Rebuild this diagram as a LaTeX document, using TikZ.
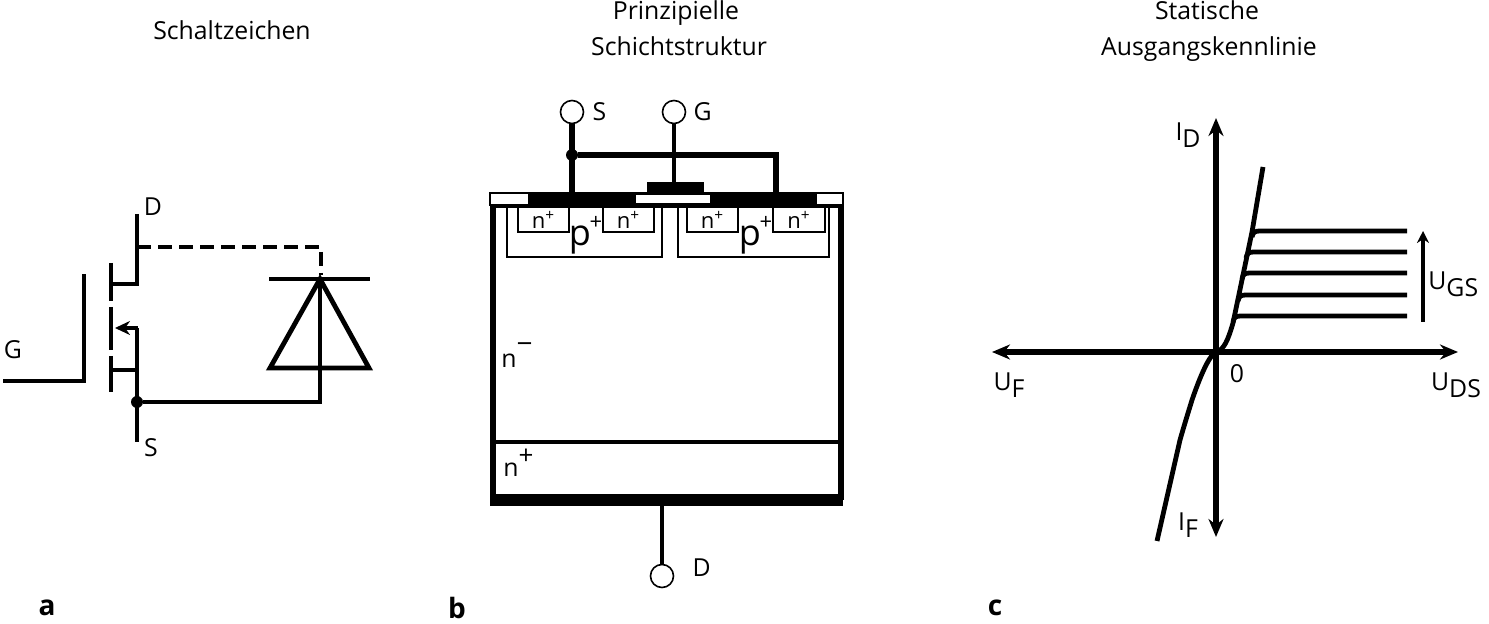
\documentclass[tikz,border=0pt]{standalone}
\usepackage{fontspec}
\setmainfont{Open Sans}
\usetikzlibrary{positioning,arrows.meta}
\newcommand{\lowidx}[2]{#1\raisebox{-3.5pt}{#2}}
\tikzset{
  lbl/.style={inner sep=0pt,font=\fontsize{12.4}{14}\selectfont},
  titlelbl/.style={lbl,anchor=base},
  thickline/.style={line width=2.8pt},
  midline/.style={line width=2.4pt},
  thinline/.style={line width=1.4pt},
  terminal/.style={circle,draw,line width=0.8pt,minimum size=11.5pt,inner sep=0pt,fill=white},
  junction/.style={circle,fill=black,minimum size=6pt,inner sep=0pt},
  axisarrows/.style={{Stealth[length=9pt,width=7.5pt]}-{Stealth[length=9pt,width=7.5pt]}},
}
\begin{document}
\begin{tikzpicture}[line join=miter,>=stealth,x=0.5pt,y=-0.5pt]
\useasboundingbox (0,0) rectangle (1489,624);

% titles and panel letters
\node[titlelbl] (titleA) at (232,40) {Schaltzeichen};
\node[titlelbl] (titleB1) at (676,20) {Prinzipielle};
\node[titlelbl] (titleB2) at (679,56) {Schichtstruktur};
\node[titlelbl] (titleC1) at (1207,20) {Statische};
\node[titlelbl] (titleC2) at (1209,56) {Ausgangskennlinie};
\foreach \x/\l in {47/a,457/b,995/c}{\node[lbl,font=\fontsize{14}{16}\selectfont\bfseries] (panel\l) at (\x,608) {\l};}

% a: symbol
\coordinate (drainTop) at (137,214);
\coordinate (sourceEnd) at (137,442);
\coordinate (bodyTop) at (137,328);
\coordinate (gateEnd) at (3,381);
\coordinate (gateCorner) at (84,381);
\coordinate (gateTop) at (84,274);
\coordinate (cathode) at (320,279);
\node[junction] (srcDot) at (137,402) {};
\draw[midline] (drainTop) -- (137,284) -- (112,284);
\draw[midline] (137,442) -- (137,328);
\draw[midline] (137,370) -- (112,370);
\draw[midline,-{Stealth[length=7.5pt,width=7pt]}] (138,328) -- (115,328);
\draw[midline] (gateEnd) -- (gateCorner) -- (gateTop);
\foreach \a/\b in {263/301,307/350,356/392}{\draw[midline] (111,\a) -- (111,\b);}
\draw[midline,dash pattern=on 7pt off 3.5pt] (137,247) -- (321,247) -- (321,275);
\draw[midline] (srcDot) -| (cathode);
\draw[midline] (269,279) -- (370,279);
\draw[midline] (cathode) -- (270,368) -- (369,368) -- cycle;
\node[lbl] (lblD) at (153,207) {D};
\node[lbl] (lblS) at (151,448) {S};
\node[lbl] (lblG) at (13,350) {G};

% b: layers
\node[terminal] (termS) at (572,112) {};
\node[terminal] (termG) at (674,112) {};
\node[terminal] (termD) at (662,576) {};
\node[lbl,right=4pt of termS] (lblSb) {S};
\node[lbl,right=3.5pt of termG] (lblGb) {G};
\node[lbl,right=9pt of termD,yshift=4pt] (lblDb) {D};
\draw[thinline] (490,193) rectangle (843,205);
\fill (528,192) rectangle (635,206);
\fill (711,192) rectangle (817,206);
\fill (647,182) rectangle (704,192);
\draw[line width=1pt,fill=white] (635,194) rectangle (711,204);
\draw[midline] (490,206) -- (843,206);
\draw[thickline] (493,205) -- (493,500);
\draw[thickline] (841,205) -- (841,500);
\draw[midline] (493,442) -- (841,442);
\fill (490,494) rectangle (843,506);
\foreach \xa/\xb in {507/662,678/829}{\draw[thinline] (\xa,206) -- (\xa,257) -- (\xb,257) -- (\xb,206);}
\foreach \xa/\xb in {518/569,603/654,687/738,773/825}{
  \draw[thinline] (\xa,206) -- (\xa,232) -- (\xb,232) -- (\xb,206);
  \node[lbl,font=\fontsize{11}{13}\selectfont] at ({(\xa+\xb)/2},220) {n\textsuperscript{+}};
}
\foreach \x in {580,750}{
  \node[lbl,font=\fontsize{18}{20}\selectfont] at (\x,240) {p};
  \node[lbl,font=\fontsize{11}{13}\selectfont] at (\x+16,223) {+};
}
\node[lbl,anchor=base west] (lblNminus) at (501,368) {n\raisebox{7pt}{\fontsize{14}{12}\selectfont −}};
\node[lbl,anchor=base west] (lblNplus) at (503,477) {n\raisebox{6pt}{\fontsize{13}{12}\selectfont +}};
\coordinate (metalS) at (572,192);
\coordinate (metalR) at (776,192);
\coordinate (gatePlate) at (674,182);
\node[junction] (srcNode) at (572,155) {};
\draw[thickline] (termS) -- (metalS);
\draw[midline] (termG) -- (gatePlate);
\draw[thickline] (srcNode) -| (metalR);
\draw[midline] (662,505) -- (termD);

% c: characteristic
\coordinate (axL) at (992,352);
\coordinate (axR) at (1458,352);
\coordinate (axT) at (1216,118);
\coordinate (axB) at (1216,537);
\draw[thickline,axisarrows] (axL) -- (axR);
\draw[thickline,axisarrows] (axB) -- (axT);
\draw[midline] (1263,167) -- (1252,232) -- (1233,323) .. controls (1228,340) and (1224,350) .. (1216,352) .. controls (1211,354) and (1203,368) .. (1192,400) .. controls (1188,413) and (1184,426) .. (1180,440) -- (1157,541);
\foreach \y/\x in {231/1252,252/1246,273/1242,295/1238,316/1233}{
  \draw[midline] (\x,\y+6) .. controls (\x+1,\y+1) and (\x+3,\y) .. (\x+8,\y) -- (1407,\y);
}
\draw[line width=1.6pt,-{Stealth[length=6pt,width=6pt]}] (1423,322) -- (1423,231);
\node[lbl,anchor=west] (lblUgs) at (1428,284) {\lowidx{U}{GS}};
\node[lbl] (lblId) at (1188,135) {\lowidx{I}{D}};
\node[lbl] (lblIf) at (1188,525) {\lowidx{I}{F}};
\node[lbl] (lblUf) at (1009,385) {\lowidx{U}{F}};
\node[lbl] (lblUds) at (1456,385) {\lowidx{U}{DS}};
\node[lbl] (lblZero) at (1237,374) {0};
\end{tikzpicture}
\end{document}
